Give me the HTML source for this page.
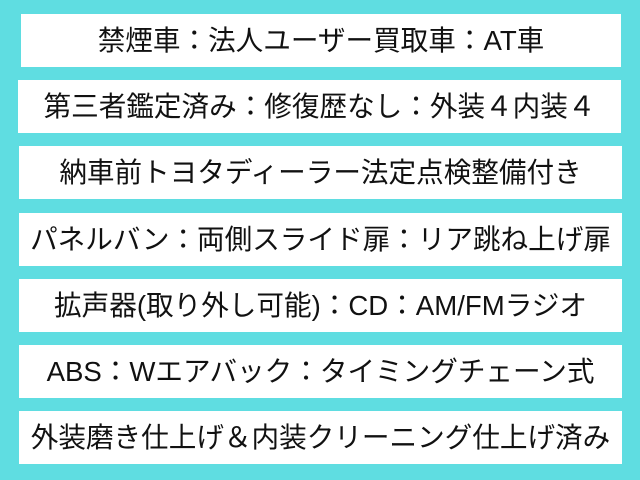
<!DOCTYPE html>
<html><head><meta charset="utf-8"><style>
html,body{margin:0;padding:0;}
body{width:640px;height:480px;background:#5fdde1;position:relative;overflow:hidden;font-family:"Liberation Sans","Noto Sans CJK JP",sans-serif;}
.b{position:absolute;left:19px;width:603px;height:53px;background:#fff;color:#111;font-size:27.6px;line-height:53px;text-align:center;white-space:nowrap;}
</style></head><body>
<div class="b" style="top:14px;left:21px;width:600px">禁煙車：法人ユーザー買取車：AT車</div>
<div class="b" style="top:80px;left:18px">第三者鑑定済み：修復歴なし：外装４内装４</div>
<div class="b" style="top:146px">納車前トヨタディーラー法定点検整備付き</div>
<div class="b" style="top:213px">パネルバン：両側スライド扉：リア跳ね上げ扉</div>
<div class="b" style="top:279px">拡声器(取り外し可能)：CD：AM/FMラジオ</div>
<div class="b" style="top:345px">ABS：Wエアバック：タイミングチェーン式</div>
<div class="b" style="top:411px">外装磨き仕上げ＆内装クリーニング仕上げ済み</div>
</body></html>
